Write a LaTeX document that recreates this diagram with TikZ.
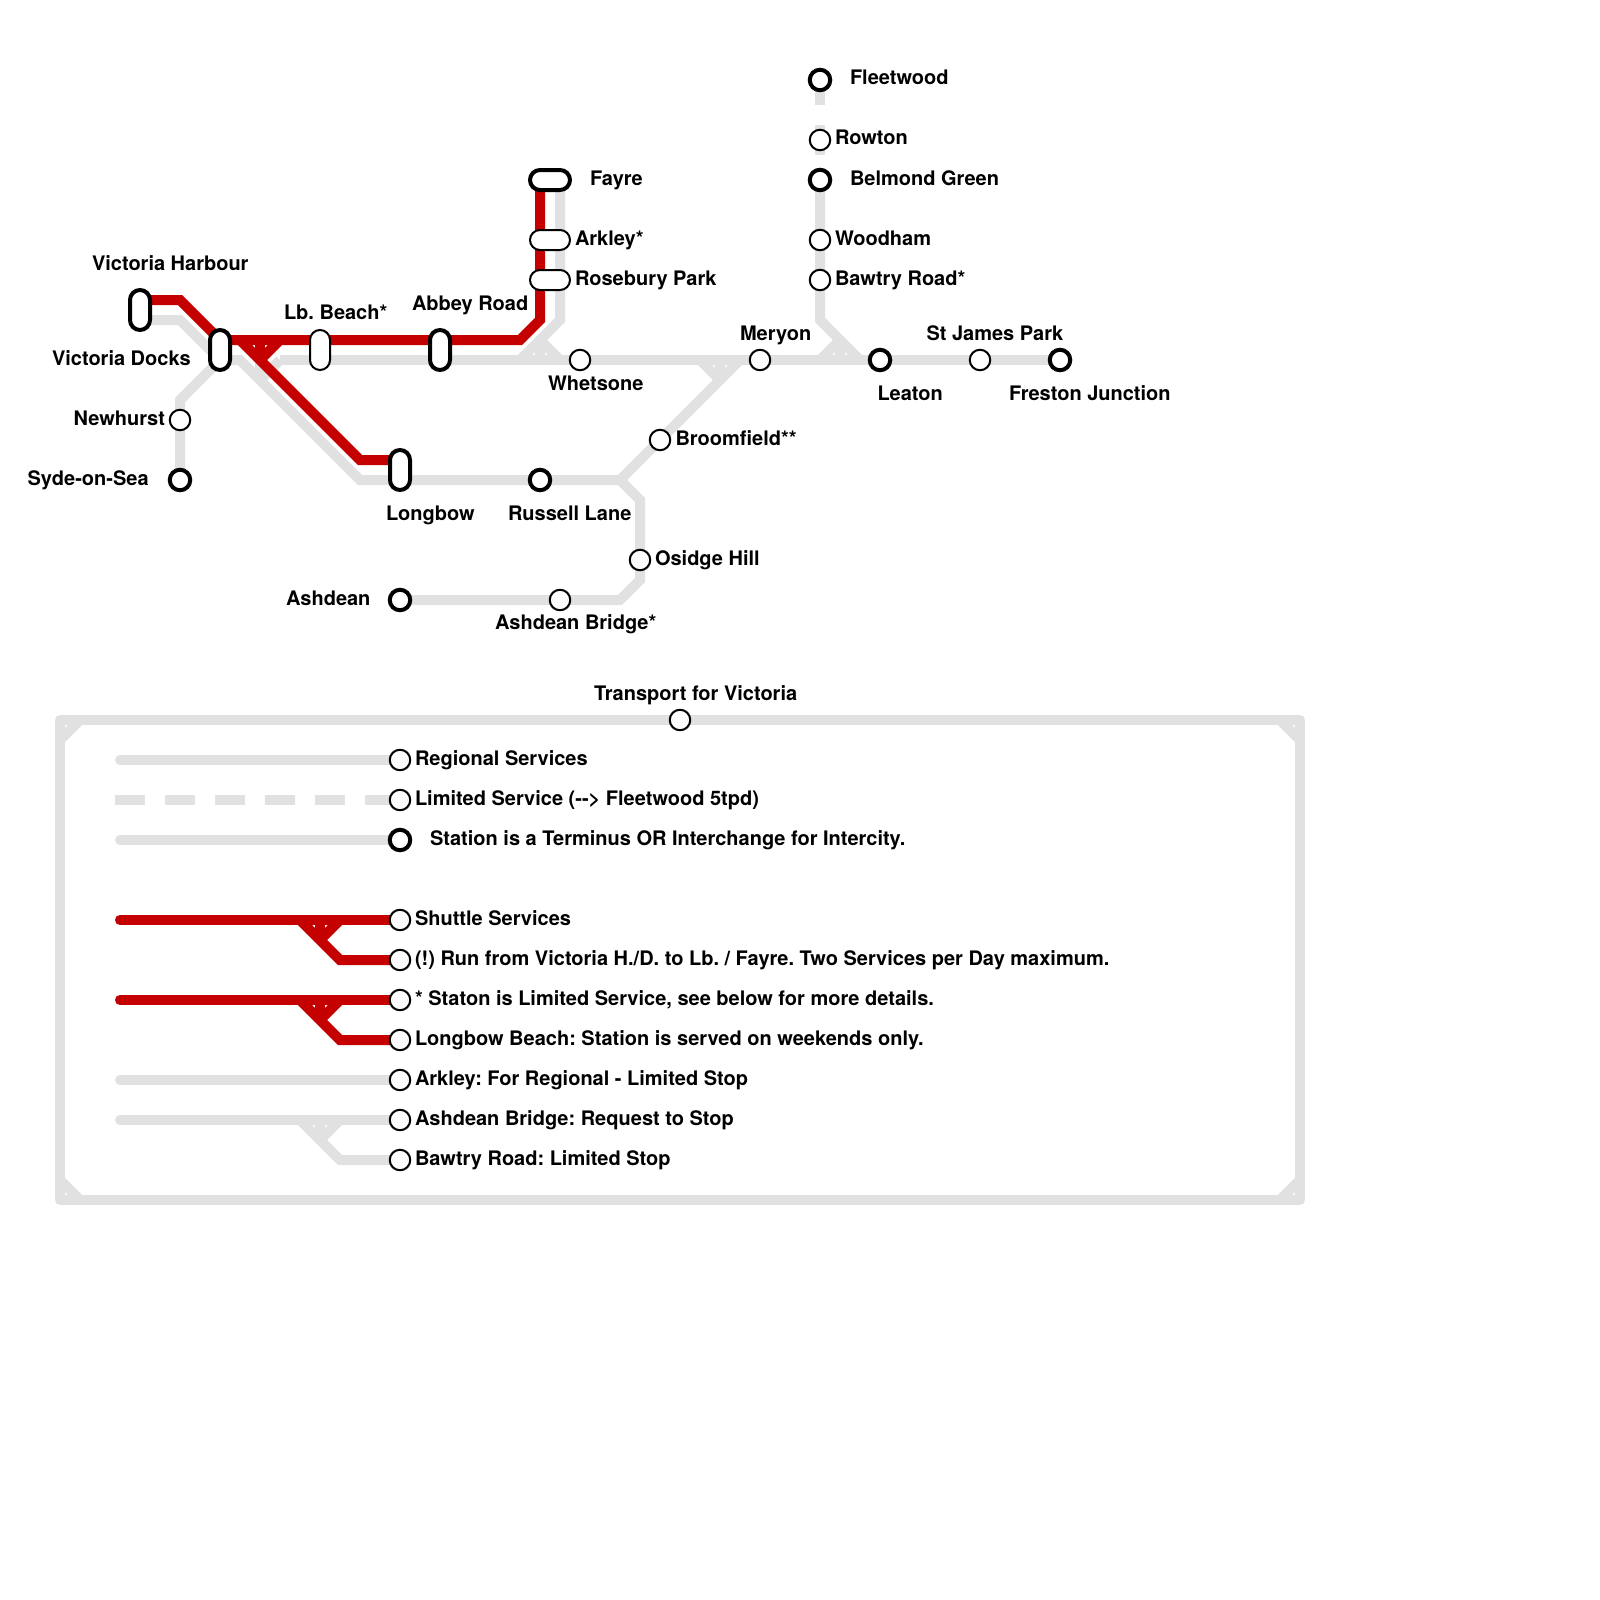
\documentclass[tikz,border=0pt]{standalone}
\usepackage{fontspec}
\setmainfont{TeX Gyre Heros}[Ligatures=NoCommon]
\usetikzlibrary{backgrounds}
\definecolor{lineg}{HTML}{E1E1E1}
\definecolor{liner}{HTML}{C40000}
\pgfdeclarelayer{lines}
\pgfsetlayers{lines,main}
\tikzset{
  x=0.5pt,y=-0.5pt,
  st/.style={circle,draw=black,fill=white,line width=1pt,minimum size=10.25pt,inner sep=0pt,outer sep=0pt},
  term/.style={st,line width=2pt},
  capv/.style={rectangle,rounded corners=5pt,draw=black,fill=white,line width=1pt,minimum width=10pt,minimum height=20pt,inner sep=0pt,outer sep=0pt},
  caph/.style={capv,minimum width=20pt,minimum height=10pt},
  capvt/.style={capv,line width=2pt},
  capht/.style={caph,line width=2pt},
  gl/.style={draw=lineg,line width=5pt,line join=miter,line cap=butt},
  rl/.style={draw=liner,line width=5pt,line join=miter,line cap=butt},
  lab/.style={anchor=base west,inner sep=0pt,outer sep=0pt,font=\bfseries\fontsize{10pt}{12pt}\selectfont\frenchspacing,text=black},
}
\begin{document}
\begin{tikzpicture}
\useasboundingbox (0,0) rectangle (1600,1600);
% stations
\node[capvt] (vh) at (140,310) {};
\node[capvt] (vd) at (220,350) {};
\node[capv] (lb) at (320,350) {};
\node[capvt] (ab) at (440,350) {};
\node[capvt] (lo) at (400,470) {};
\node[capht] (fa) at (550,180) {};
\node[caph] (ar) at (550,240) {};
\node[caph] (ro) at (550,280) {};
\node[st] (ne) at (180,420) {};
\node[term] (sy) at (180,480) {};
\node[st] (wh) at (580,360) {};
\node[st] (me) at (760,360) {};
\node[term] (le) at (880,360) {};
\node[st] (sj) at (980,360) {};
\node[term] (fr) at (1060,360) {};
\node[st] (br) at (660,440) {};
\node[term] (ru) at (540,480) {};
\node[st] (os) at (640,560) {};
\node[term] (as) at (400,600) {};
\node[st] (ab2) at (560,600) {};
\node[term] (fl) at (820,80) {};
\node[st] (rw) at (820,140) {};
\node[term] (be) at (820,180) {};
\node[st] (wo) at (820,240) {};
\node[st] (bw) at (820,280) {};
\node[st] (tf) at (680,720) {};
\node[st] (k1) at (400,760) {};
\node[st] (k2) at (400,800) {};
\node[term] (k3) at (400,840) {};
\node[st] (k4) at (400,920) {};
\node[st] (k5) at (400,960) {};
\node[st] (k6) at (400,1000) {};
\node[st] (k7) at (400,1040) {};
\node[st] (k8) at (400,1080) {};
\node[st] (k9) at (400,1120) {};
\node[st] (k10) at (400,1160) {};
% labels
\node[lab] (tvh) at (92,270) {Victoria Harbour};
\node[lab] (tvd) at (52,365) {Victoria Docks};
\node[lab] (tne) at (73.5,425) {Newhurst};
\node[lab] (tsy) at (27.5,485) {Syde-on-Sea};
\node[lab] (tlb) at (284,319.5) {Lb. Beach*};
\node[lab] (tab) at (412,310) {Abbey Road};
\node[lab] (tlo) at (386,520) {Longbow};
\node[lab] (tru) at (508,520) {Russell Lane};
\node[lab] (tas) at (286,605) {Ashdean};
\node[lab] (tab2) at (495,629.5) {Ashdean Bridge*};
\node[lab] (tos) at (655,565) {Osidge Hill};
\node[lab] (tbr) at (675.5,445) {Broomfield**};
\node[lab] (twh) at (548,390) {Whetsone};
\node[lab] (tme) at (740,340) {Meryon};
\node[lab] (tsj) at (926.5,340) {St James Park};
\node[lab] (tle) at (877.5,400) {Leaton};
\node[lab] (tfr) at (1009,400) {Freston Junction};
\node[lab] (tfa) at (590,185) {Fayre};
\node[lab] (tar) at (575,245) {Arkley*};
\node[lab] (tro) at (575,285) {Rosebury Park};
\node[lab] (tfl) at (850,85) {Fleetwood};
\node[lab] (trw) at (835,145) {Rowton};
\node[lab] (tbe) at (850,185) {Belmond Green};
\node[lab] (two) at (835,245) {Woodham};
\node[lab] (tbw) at (835,285) {Bawtry Road*};
\node[lab] (ttf) at (594,700) {Transport for Victoria};
\node[lab] (t1) at (415,765) {Regional Services};
\node[lab] (t2) at (415,805) {Limited Service (-{}-> Fleetwood 5tpd)};
\node[lab] (t3) at (430,845) {Station is a Terminus OR Interchange for Intercity.};
\node[lab] (t4) at (415,925) {Shuttle Services};
\node[lab] (t5) at (415,965) {(!) Run from Victoria H./D. to Lb. / Fayre. Two Services per Day maximum.};
\node[lab] (t6) at (415,1005) {* Staton is Limited Service, see below for more details.};
\node[lab] (t7) at (415,1045) {Longbow Beach: Station is served on weekends only.};
\node[lab] (t8) at (415,1085) {Arkley: For Regional - Limited Stop};
\node[lab] (t9) at (415,1125) {Ashdean Bridge: Request to Stop};
\node[lab] (t10) at (415,1165) {Bawtry Road: Limited Stop};
% waypoints
\coordinate (vhr) at (140,300); \coordinate (vhg) at (140,320);
\coordinate (vdr) at (220,340); \coordinate (vdg) at (220,360);
\coordinate (lor) at (400,460); \coordinate (log) at (400,480);
\coordinate (far) at (540,180); \coordinate (fag) at (560,180);
\coordinate (rej) at (620,480); \coordinate (mej) at (740,360);
\coordinate (lsw) at (280,360); \coordinate (fla) at (820,75); \coordinate (flb) at (820,175);
\begin{pgfonlayer}{lines}
% grey regional lines
\draw[gl] (vhg) -- (180,320) -- (vdg);
\draw[gl] (vdg) -- (240,360) -- (360,480) -- (log) -- (ru.center) -- (rej);
\draw[gl] (vdg) -- (180,400) -- (ne.center) -- (sy.center);
\draw[gl] (lsw) -- (wh.center) -- (me.center) -- (le.center) -- (sj.center) -- (fr.center);
\draw[gl] (lsw) -- (260,380);
\draw[gl] (260,360) -- (260,380);
\draw[gl] (fag) -- (560,320) -- (520,360);
\draw[gl] (540,340) -- (560,360);
\draw[gl] (540,340) -- (540,360);
\draw[gl] (mej) -- (br.center) -- (rej);
\draw[gl] (700,360) -- (720,380);
\draw[gl] (720,360) -- (720,380);
\draw[gl] (rej) -- (640,500) -- (os.center) -- (640,580) -- (620,600) -- (ab2.center) -- (as.center);
\draw[gl,dash pattern=on 15pt off 10pt] (fla) -- (flb);
\draw[gl] (flb) -- (be.center) -- (820,320) -- (860,360);
\draw[gl] (820,360) -- (840,340);
\draw[gl] (840,340) -- (840,360);
% frame
\draw[gl,line join=round] (60,720) rectangle (1300,1200);
\foreach \a/\b/\c/\d in {60/740/80/720,1300/740/1280/720,60/1180/80/1200,1300/1180/1280/1200}{
  \draw[gl] (\a,\b) -- (\c,\d);
}
% key
\draw[gl,line cap=round] (120,760) -- (k1.center);
\draw[gl,dash pattern=on 15pt off 10pt] (115,800) -- (k2.center);
\draw[gl,line cap=round] (120,840) -- (k3.center);
\draw[gl,line cap=round] (120,1080) -- (k8.center);
\draw[gl,line cap=round] (120,1120) -- (k9.center);
\draw[gl] (300,1120) -- (340,1160) -- (k10.center);
\draw[gl] (340,1120) -- (320,1140);
\draw[gl] (320,1120) -- (320,1140);
% shuttle
\draw[rl] (vhr) -- (180,300) -- (vdr) -- (lb.center |- vdr) -- (ab.center |- vdr) -- (520,340) -- (540,320) -- (far);
\draw[rl] (240,340) -- (360,460) -- (lor);
\draw[rl] (280,340) -- (260,360);
\draw[rl] (260,340) -- (260,360);
\draw[rl,line cap=round] (120,920) -- (k4.center);
\draw[rl] (300,920) -- (340,960) -- (k5.center);
\draw[rl] (340,920) -- (320,940);
\draw[rl] (320,920) -- (320,940);
\draw[rl,line cap=round] (120,1000) -- (k6.center);
\draw[rl] (300,1000) -- (340,1040) -- (k7.center);
\draw[rl] (340,1000) -- (320,1020);
\draw[rl] (320,1000) -- (320,1020);
\end{pgfonlayer}
\end{tikzpicture}
\end{document}
